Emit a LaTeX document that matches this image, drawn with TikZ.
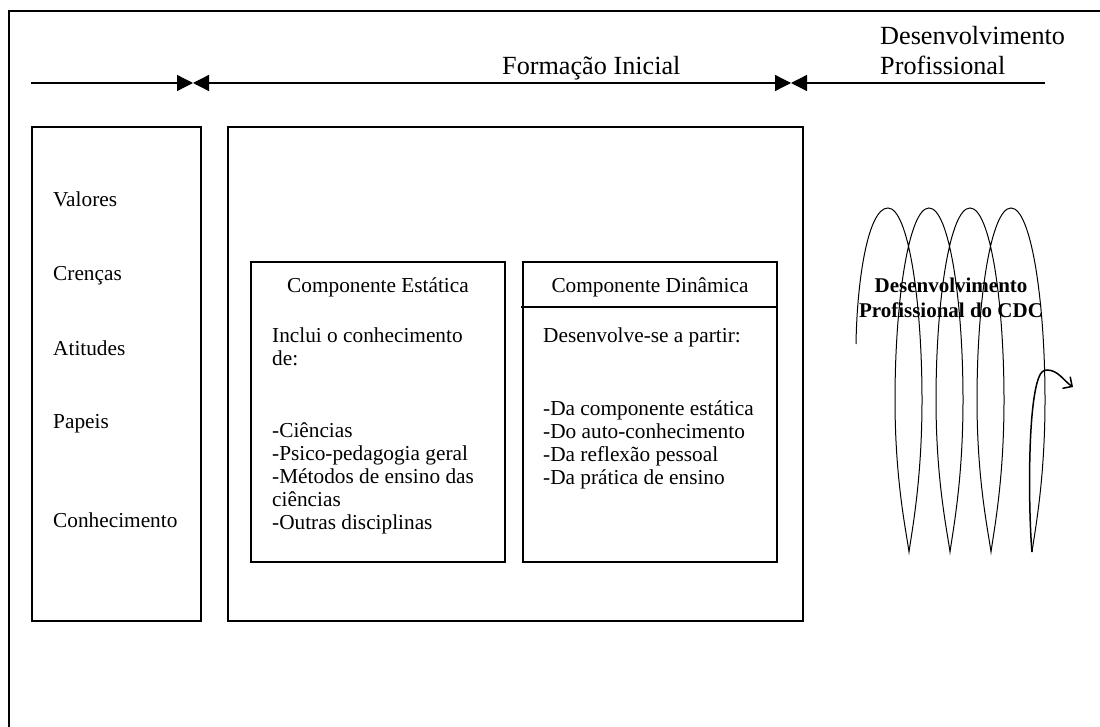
\documentclass[tikz,border=0pt]{standalone}
\usepackage{fontspec}
\setmainfont{Liberation Serif}
\usetikzlibrary{arrows.meta}
\begin{document}
\begin{tikzpicture}[x=1pt,y=-1pt,
  frame/.style={line width=1.8pt},
  boxline/.style={draw, line width=1.4pt, inner sep=0pt},
  txt/.style={anchor=base west, inner sep=0pt, font=\fontsize{21.3}{23.5}\selectfont},
  bigtxt/.style={anchor=base west, inner sep=0pt, font=\fontsize{26.2}{30}\selectfont},
  head/.style={anchor=base, inner sep=0pt, font=\fontsize{21.3}{23.5}\selectfont},
  boldtxt/.style={anchor=base, inner sep=0pt, font=\fontsize{21}{25}\selectfont\bfseries},
  tri/.style={line width=1.3pt},
  coil/.style={line width=1pt},
]
\useasboundingbox (0,0) rectangle (1100,727);

% outer frame (open to the right and bottom)
\coordinate (fa) at (9,727);
\coordinate (fb) at (9,11);
\coordinate (fc) at (1100,11);
\draw[frame] (fa) -- (fb) -- (fc);

% time line with its three stages
\coordinate (a0) at (31,83);
\coordinate (a1) at (193,83);
\coordinate (a2) at (791,83);
\coordinate (a3) at (1045,83);
\draw[tri, -{Triangle[length=16pt,width=16pt]}] (a0) -- (a1);
\draw[tri, {Triangle[length=16pt,width=16pt]}-{Triangle[length=16pt,width=16pt]}] (a1) -- (a2);
\draw[tri, -{Triangle[length=16pt,width=16pt]}] (a3) -- (a2);

\node[bigtxt] (fi) at (502,75) {Formação Inicial};
\node[bigtxt] (dp1) at (880,45) {Desenvolvimento};
\node[bigtxt] (dp2) at (880,75) {Profissional};

% left column
\node[boxline, minimum width=169pt, minimum height=494pt] (lbox) at (116.5,374) {};
\node[txt] (v1) at (53,207) {Valores};
\node[txt] (v2) at (53,280) {Crenças};
\node[txt] (v3) at (53,355) {Atitudes};
\node[txt] (v4) at (53,428) {Papeis};
\node[txt] (v5) at (53,527) {Conhecimento};

% initial training block
\node[boxline, minimum width=575pt, minimum height=494pt] (bbox) at (515.5,374) {};

% static component
\node[boxline, minimum width=254pt, minimum height=300pt] (boxE) at (378,412) {};
\node[head] (hE) at (378,292) {Componente Estática};
\node[txt] (e1) at (272,342) {Inclui o conhecimento};
\node[txt] (e2) at (272,365) {de:};
\node[txt] (e3) at (272,437) {-Ciências};
\node[txt] (e4) at (272,460) {-Psico-pedagogia geral};
\node[txt] (e5) at (272,483) {-Métodos de ensino das};
\node[txt] (e6) at (272,506) {ciências};
\node[txt] (e7) at (272,529) {-Outras disciplinas};

% dynamic component
\node[boxline, minimum width=254pt, minimum height=300pt] (boxD) at (650,412) {};
\coordinate (dl) at (521,307);
\draw[line width=1.4pt] (dl) -- (dl -| boxD.east);
\node[head] (hD) at (650,292) {Componente Dinâmica};
\node[txt] (d1) at (543,342) {Desenvolve-se a partir:};
\node[txt] (d2) at (543,415) {-Da componente estática};
\node[txt] (d3) at (543,438) {-Do auto-conhecimento};
\node[txt] (d4) at (543,461) {-Da reflexão pessoal};
\node[txt] (d5) at (543,484) {-Da prática de ensino};

% professional development coil
\coordinate (c0) at (856,344);
\coordinate (c1) at (1032,552);
\coordinate (c2) at (1073,387);
\draw[coil] (c0) .. controls (857,280) and (868,208) .. (888,208)
  \foreach \t in {888,929,970} {
    .. controls (\t+20,208) and (\t+34,300) .. (\t+34,400)
    .. controls (\t+34,480) and (\t+24,530) .. (\t+21,552)
    .. controls (\t+18,530) and (\t+7,480) .. (\t+7,400)
    .. controls (\t+7,300) and (\t+21,208) .. (\t+41,208)
  }
  .. controls (1031,208) and (1045,300) .. (1045,400)
  .. controls (1045,480) and (1035,530) .. (c1);
\draw[line width=1.5pt, -{Straight Barb[length=7pt,width=14pt]}]
  (c1) .. controls (1029,520) and (1027,420) .. (1037,383)
  .. controls (1040,372) and (1043,370) .. (1047,370)
  .. controls (1058,370) and (1064,381) .. (c2);

\node[boldtxt] (cdc1) at (951,292) {Desenvolvimento};
\node[boldtxt] (cdc2) at (951,317) {Profissional do CDC};
\end{tikzpicture}
\end{document}
